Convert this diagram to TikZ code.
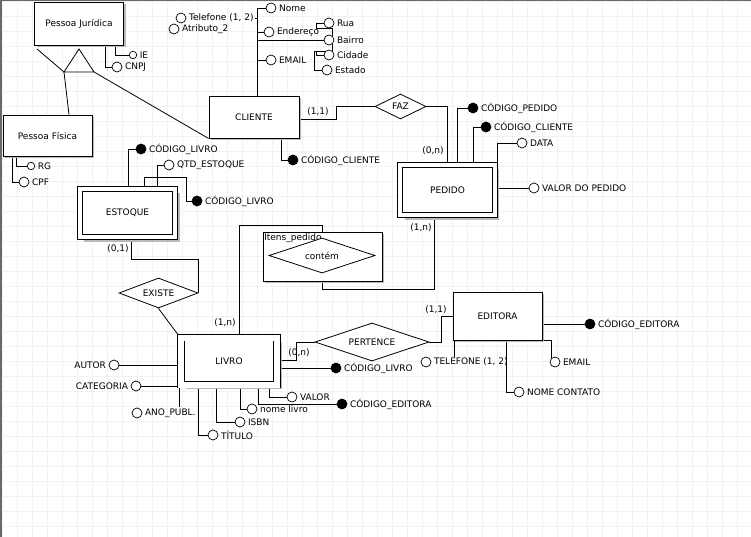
\documentclass[tikz,border=0pt]{standalone}
\usepackage{fontspec}
\setmainfont{DejaVu Sans}
\usetikzlibrary{positioning,shapes.geometric,shadows}

\definecolor{gridline}{RGB}{238,242,249}
\definecolor{frameline}{RGB}{105,105,105}

\pgfdeclarelayer{grid}
\pgfdeclarelayer{links}
\pgfsetlayers{grid,links,main}

\begin{document}
\begin{tikzpicture}[
            x=1pt,y=-1pt,
            font=\fontsize{9}{10.5}\selectfont,
            entity/.style={draw,rectangle,fill=white,line width=0.9pt,minimum width=89pt,inner sep=0pt,
              drop shadow={shadow xshift=2pt,shadow yshift=-2pt,fill=gray!55,opacity=1}},
            weak/.style={entity,double,double distance=4pt,outer sep=2.8pt,
              drop shadow={shadow xshift=4.5pt,shadow yshift=-4.5pt,fill=gray!55,opacity=1}},
            rel/.style={draw,diamond,aspect=3,fill=white,inner sep=0pt,line width=0.8pt},
            attr/.style={draw,circle,fill=white,minimum size=10pt,inner sep=0pt,line width=0.7pt},
            keyattr/.style={attr,fill=black},
            small/.style={minimum size=7.5pt},
            card/.style={inner sep=0pt},
            every label/.style={inner sep=1pt},
            label distance=1.5pt,
            link/.style={draw,line width=0.8pt}
          ]
          \useasboundingbox (0,0) rectangle (751,537);

          %entities
          \node[entity,minimum height=43pt] (pj) at (79,23.5) {Pessoa Jurídica};
          \node[entity,minimum height=41pt] (pf) at (47.5,135.5) {Pessoa Física};
          \node[entity,minimum width=90pt,minimum height=42pt] (cliente) at (254,117) {CLIENTE};
          \node[weak,minimum width=94.5pt,minimum height=50pt] (pedido) at (447.5,190) {PEDIDO};
          \node[weak,minimum width=95.5pt,minimum height=48pt] (estoque) at (127.5,213) {ESTOQUE};
          \node[weak,minimum width=96pt,minimum height=47pt,double distance=6pt,outer sep=3.5pt] (livro) at (229,361) {LIVRO};
          \node[entity,minimum height=48pt] (editora) at (497.5,316) {EDITORA};
          \node[entity,minimum width=119pt,minimum height=49pt] (itens) at (322.5,256.5) {};
          \node[anchor=north west,inner sep=1.5pt] (litens) at (itens.north west) {Itens\_pedido};

          %relationships
          \node[rel,minimum width=51pt,minimum height=25pt] (faz) at (400.5,106.5) {FAZ};
          \node[rel,minimum width=79pt,minimum height=30pt] (existe) at (158.5,293) {EXISTE};
          \node[rel,minimum width=114pt,minimum height=38pt] (pertence) at (372,342) {PERTENCE};
          \node[rel,minimum width=106pt,minimum height=35pt] (contem) at (322,255.5) {contém};

          %specialization
          \coordinate (ta) at (79,49);
          \coordinate (tl) at (64,72);
          \coordinate (tr) at (94,72);
          \coordinate (pjl) at (37,49);
          \draw[link] (ta) -- (tl) -- (tr) -- cycle;

          %attributes
          \node[attr,small,label=right:IE] (ie) at (133,55) {};
          \node[attr,label=right:CNPJ] (cnpj) at (117,67) {};
          \node[attr,small,label=right:RG] (rg) at (31,166) {};
          \node[attr,label=right:CPF] (cpf) at (24,182) {};
          \node[attr,label=right:Nome] (nome) at (271,8) {};
          \node[attr,label={[name=ltel]right:Telefone (1, 2)}] (tel) at (181,18) {};
          \node[attr,label=right:Atributo\_2] (atr) at (174,29) {};
          \node[attr,label=right:Endereço] (ender) at (269,32) {};
          \node[attr,label=right:Rua] (rua) at (329,23) {};
          \node[attr,label=right:Bairro] (bairro) at (329,40) {};
          \node[attr,label=right:Cidade] (cidade) at (329,55) {};
          \node[attr,label=right:Estado] (estado) at (327,70) {};
          \node[attr,label=right:EMAIL] (email) at (271,60) {};
          \node[keyattr,label=right:CÓDIGO\_CLIENTE] (ccli) at (293,160) {};
          \node[keyattr,label=right:CÓDIGO\_PEDIDO] (cped) at (473,108) {};
          \node[keyattr,label=right:CÓDIGO\_CLIENTE] (pcli) at (486,127) {};
          \node[attr,label=right:DATA] (data) at (522,143) {};
          \node[attr,label=right:VALOR DO PEDIDO] (vped) at (534,188) {};
          \node[keyattr,label=right:CÓDIGO\_LIVRO] (eliv) at (141,149) {};
          \node[attr,label=right:QTD\_ESTOQUE] (qtd) at (169,165) {};
          \node[keyattr,label=right:CÓDIGO\_LIVRO] (eliv2) at (197,201) {};
          \node[attr,label=left:AUTOR] (autor) at (114,365) {};
          \node[attr,label=left:CATEGORIA] (categ) at (136,386) {};
          \node[attr,label={[name=lano]right:ANO\_PUBL.}] (ano) at (137,413) {};
          \node[attr,label=right:TÍTULO] (titulo) at (213,435) {};
          \node[attr,label=right:ISBN] (isbn) at (240,422) {};
          \node[attr,label=right:nome livro] (nliv) at (252,409) {};
          \node[attr,label=right:VALOR] (valor) at (292,397) {};
          \node[keyattr,label=right:CÓDIGO\_LIVRO] (lliv) at (336,368) {};
          \node[keyattr,label=right:CÓDIGO\_EDITORA] (ledit) at (342,404) {};
          \node[keyattr,label=right:CÓDIGO\_EDITORA] (cedit) at (590,324) {};
          \node[attr,label={[name=ltel2]right:TELEFONE (1, 2)}] (tel2) at (426,362) {};
          \node[attr,label=right:EMAIL] (email2) at (555,362) {};
          \node[attr,label=right:NOME CONTATO] (ncont) at (519,392) {};

          %cardinalities
          \node[card] (c11a) at (318,112) {(1,1)};
          \node[card] (c0na) at (433,151) {(0,n)};
          \node[card] (c1na) at (421,228) {(1,n)};
          \node[card] (c01) at (118,249) {(0,1)};
          \node[card] (c1nb) at (225,323) {(1,n)};
          \node[card] (c0nb) at (299,353) {(0,n)};
          \node[card] (c11b) at (436,310) {(1,1)};

          \coordinate (spine) at (257,8);
          \coordinate (eba) at (316,28);
          \coordinate (ebb) at (332,51);

          \begin{pgfonlayer}{links}
          \draw[link] (pjl) -- (tl);
          \draw[link] (tl) -- ([xshift=21.5pt]pf.north);
          \draw[link] (tr) -- (cliente.south west);
          \draw[link] ([xshift=36pt]pj.south) |- (ie);
          \draw[link] ([xshift=26pt]pj.south) |- (cnpj);
          \draw[link] ([xshift=-31.5pt]pf.south) |- (rg);
          \draw[link] ([xshift=-35.5pt]pf.south) |- (cpf);

          %cliente
          \draw[link] ([xshift=3pt]cliente.north) |- (nome);
          \draw[link] (ltel.east) -- (ltel.east -| spine);
          \draw[link] (ender -| spine) -- (ender);
          \draw[link] (email -| spine) -- (email);
          \draw[link] (bairro -| spine) -- (bairro);
          \draw[link] (eba) |- (rua);
          \draw[link] (eba) -| (ebb) -- ++(-18,0) |- (estado);
          \draw[link] (ebb -| eba) |- (cidade);
          \draw[link] ([yshift=-2pt]cliente.east) -- ++(37,0) |- (faz.west);
          \draw[link] ([xshift=27pt]cliente.south) |- (ccli);

          %pedido
          \draw[link] (faz.east) -| (pedido.north);
          \draw[link] ([xshift=9.5pt]pedido.north) |- (cped);
          \draw[link] ([xshift=25.5pt]pedido.north) |- (pcli);
          \draw[link] (pedido.north east) |- (data);
          \draw[link] (vped -| pedido.east) -- (vped);
          \draw[link] (contem.south) -- ++(0,16) -| ([xshift=-13.5pt]pedido.south);
          \draw[link] (contem.north) -- ++(0,-12) -| ([xshift=10pt]livro.north);

          %estoque
          \draw[link] ([xshift=0.5pt]estoque.north) |- (eliv);
          \draw[link] ([xshift=29.5pt]estoque.north) |- (qtd);
          \draw[link] ([xshift=16.5pt]estoque.north) -- ++(0,-9) -- ++(42,0) |- (eliv2);
          \draw[link] ([xshift=3.5pt]estoque.south) -- ++(0,20) -| (existe.east);
          \draw[link] (existe.south) -- (livro.north west);

          %livro
          \draw[link] (autor) -- (autor -| livro.west);
          \draw[link] (categ) -- (categ -| livro.west);
          \draw[link] ([xshift=-50pt]livro.south) -- ([xshift=-50pt]livro.south |- lano.north);
          \draw[link] ([xshift=-31pt]livro.south) |- (titulo);
          \draw[link] ([xshift=-13pt]livro.south) |- (isbn);
          \draw[link] ([xshift=11pt]livro.south) |- (nliv);
          \draw[link] ([xshift=29pt]livro.south) |- (ledit);
          \draw[link] ([xshift=40pt]livro.south) |- (valor);
          \draw[link] (lliv -| livro.east) -- (lliv);
          \draw[link] ([yshift=1pt]livro.east) -- ++(16,0) |- (pertence.west);

          %editora
          \draw[link] (pertence.east) -- ++(12,0) |- (editora.west);
          \draw[link] (cedit -| editora.east) -- (cedit);
          \draw[link] ([xshift=2pt]editora.south west) -- ([xshift=2pt]editora.south west |- ltel2.north);
          \draw[link] (editora.south east) -| (email2.north west);
          \draw[link] ([xshift=8.5pt]editora.south) |- (ncont);
          \end{pgfonlayer}

          %grid
          \begin{pgfonlayer}{grid}
          \foreach \gx in {2,17,...,752} \draw[gridline,line width=0.8pt] (\gx,0) -- (\gx,537);
          \foreach \gy in {1,16,...,537} \draw[gridline,line width=0.8pt] (0,\gy) -- (751,\gy);
          \draw[frameline,line width=1.5pt] (0,0.75) -- (751,0.75);
          \draw[frameline,line width=1.5pt] (0.75,0) -- (0.75,537);
          \end{pgfonlayer}
      \end{tikzpicture}
\end{document}
